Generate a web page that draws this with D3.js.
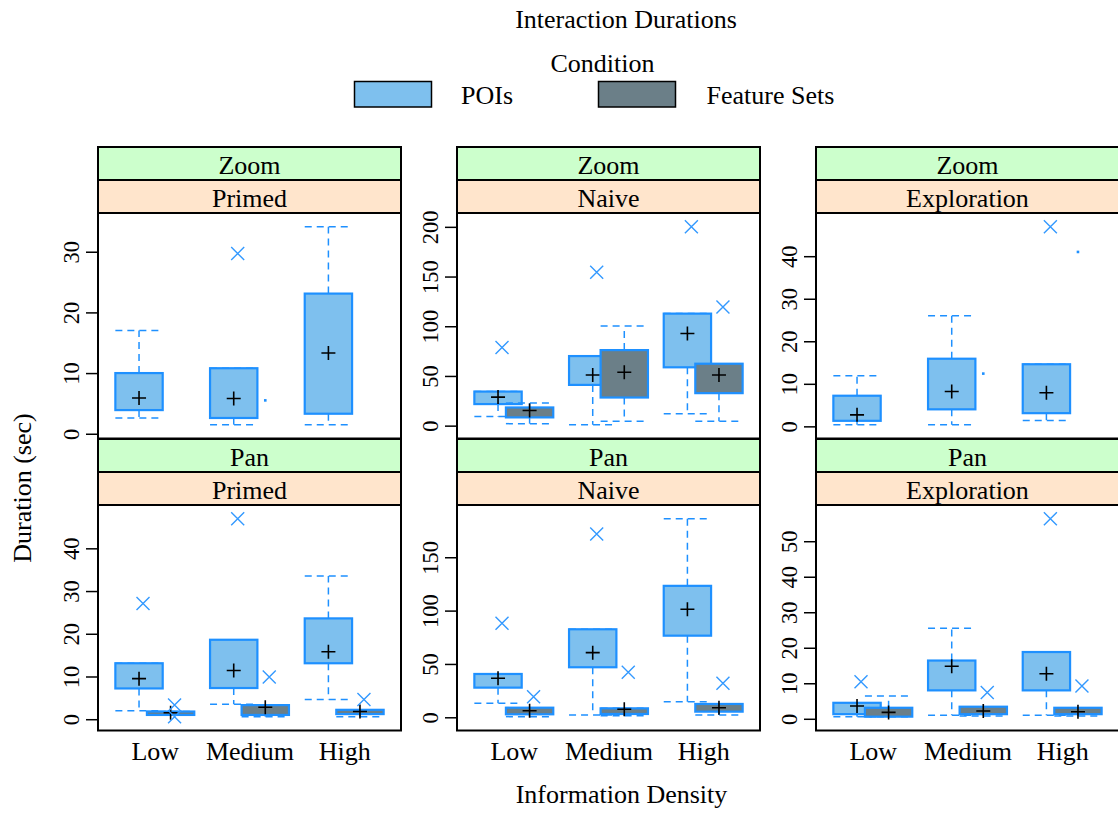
<!DOCTYPE html>
<html>
<head>
<meta charset="utf-8">
<script src="https://cdn.jsdelivr.net/npm/d3@7"></script>
<style>
  body { margin: 0; background: #fff; }
  svg { display: block; font-family: "Liberation Serif", "Times New Roman", serif; }
</style>
</head>
<body>
<script>
const densities = ['Low', 'Medium', 'High']
const conditions = ['POIs', 'Feature Sets']
const tasks = ['Primed', 'Naive', 'Exploration']
const interactions = ['Zoom', 'Pan']

// box stats per density: [lower whisker, lower hinge, mean, upper hinge, upper whisker]
const zoomPrimedPOIs = [[2.6, 3.9, 5.9, 10.0, 17.0], [1.5, 2.6, 5.8, 10.8, 10.8], [1.5, 3.3, 13.3, 23.1, 34.1]]
const zoomPrimedFeatureSets = [null, null, null]
const zoomNaivePOIs = [[9.3, 21.7, 28.7, 34.3, 34.3], [1.0, 41.0, 51.0, 70.0, 70.0], [12.0, 58.7, 92.7, 112.7, 112.7]]
const zoomNaiveFeatureSets = [[2.0, 8.3, 15.3, 18.3, 22.7], [4.3, 28.3, 53.7, 76.0, 100.3], [4.3, 32.7, 51.0, 62.3, 62.3]]
const zoomExplorationPOIs = [[0.4, 1.3, 2.7, 7.2, 11.9], [0.4, 4.0, 8.2, 15.9, 26.0], [1.4, 3.1, 7.9, 14.6, 14.6]]
const zoomExplorationFeatureSets = [null, null, null]
const panPrimedPOIs = [[2.0, 7.2, 9.5, 13.1, 13.1], [3.5, 7.3, 11.4, 18.6, 18.6], [4.6, 13.1, 15.8, 23.6, 33.5]]
const panPrimedFeatureSets = [[0.9, 1.0, 1.5, 1.8, 1.8], [0.6, 1.0, 2.8, 3.3, 3.3], [0.6, 1.2, 1.8, 2.2, 2.2]]
const panNaivePOIs = [[13.1, 27.8, 36.6, 40.6, 40.6], [2.2, 46.9, 60.6, 82.5, 82.5], [14.6, 76.5, 101.3, 123.2, 186.0]]
const panNaiveFeatureSets = [[0.6, 2.8, 6.2, 9.0, 9.0], [1.5, 3.1, 7.5, 8.4, 8.4], [2.2, 5.3, 9.0, 12.5, 12.5]]
const panExplorationPOIs = [[0.6, 1.3, 3.6, 4.5, 4.5], [1.0, 8.0, 14.8, 16.4, 25.5], [1.0, 8.0, 12.7, 18.8, 18.8]]
const panExplorationFeatureSets = [[0.6, 0.6, 1.8, 3.1, 6.4], [0.8, 1.3, 2.2, 3.4, 3.4], [0.8, 1.3, 2.0, 3.1, 3.1]]

// outliers: [density, condition, value]
const zoomPrimedOutliers = [['Medium', 'POIs', 29.7]]
const zoomNaiveOutliers = [['Low', 'POIs', 78.7], ['Medium', 'POIs', 154.3], ['High', 'POIs', 200], ['High', 'Feature Sets', 119.3]]
const zoomExplorationOutliers = [['High', 'POIs', 46.9]]
const panPrimedOutliers = [['Low', 'POIs', 27.1], ['Low', 'Feature Sets', 3.3], ['Low', 'Feature Sets', 0.6], ['Medium', 'POIs', 46.9], ['Medium', 'Feature Sets', 9.9], ['High', 'Feature Sets', 4.6]]
const panNaiveOutliers = [['Low', 'POIs', 88.2], ['Low', 'Feature Sets', 19.3], ['Medium', 'POIs', 171.7], ['Medium', 'Feature Sets', 42.2], ['High', 'Feature Sets', 31.9]]
const panExplorationOutliers = [['Low', 'POIs', 10.4], ['Medium', 'Feature Sets', 7.4], ['High', 'POIs', 56.3], ['High', 'Feature Sets', 9.2]]

// groups with a single observation (drawn as a dot)
const zoomPrimedSingles = [['Medium', 'Feature Sets', 5.5]]
const zoomExplorationSingles = [['Medium', 'Feature Sets', 12.4], ['High', 'Feature Sets', 41.0]]

const panels = [
  { interaction: 'Zoom', task: 'Primed', stats: [zoomPrimedPOIs, zoomPrimedFeatureSets], outliers: zoomPrimedOutliers, singles: zoomPrimedSingles },
  { interaction: 'Zoom', task: 'Naive', stats: [zoomNaivePOIs, zoomNaiveFeatureSets], outliers: zoomNaiveOutliers, singles: [] },
  { interaction: 'Zoom', task: 'Exploration', stats: [zoomExplorationPOIs, zoomExplorationFeatureSets], outliers: zoomExplorationOutliers, singles: zoomExplorationSingles },
  { interaction: 'Pan', task: 'Primed', stats: [panPrimedPOIs, panPrimedFeatureSets], outliers: panPrimedOutliers, singles: [] },
  { interaction: 'Pan', task: 'Naive', stats: [panNaivePOIs, panNaiveFeatureSets], outliers: panNaiveOutliers, singles: [] },
  { interaction: 'Pan', task: 'Exploration', stats: [panExplorationPOIs, panExplorationFeatureSets], outliers: panExplorationOutliers, singles: [] }
]

const fills = ['#7EC0EE', '#6B7F88']
const stroke = '#1E90FF'
const stripColors = ['#CCFFCC', '#FFE5CC']

// LAYOUT
const width = 1118
const height = 813
const panelLeft = 98
const colStep = 359
const panelW = 303
const rowTop = 147
const rowStep = 292
const stripH = 33
const panelH = 225.5

const svg = d3.select('body').append('svg')
  .attr('width', width)
  .attr('height', height)

const x = d3.scalePoint()
  .domain(densities)
  .range([0, panelW])
  .padding(0.6)
const step = x.step()
const boxW = step / 2
const offset = d3.scaleOrdinal().domain(conditions).range([-step / 6, step / 6])

panels.forEach(p => {
  const col = tasks.indexOf(p.task)
  const row = interactions.indexOf(p.interaction)
  const left = panelLeft + col * colStep
  const top = rowTop + row * rowStep
  const g = svg.append('g').attr('transform', `translate(${left},${top})`)

  // strips
  const strips = [p.interaction, p.task]
  strips.forEach((s, i) => {
    g.append('rect')
      .attr('x', 0).attr('y', i * stripH)
      .attr('width', panelW).attr('height', stripH)
      .attr('fill', stripColors[i])
      .attr('stroke', '#000').attr('stroke-width', 2)
    g.append('text')
      .attr('x', panelW / 2).attr('y', i * stripH + 26.5)
      .attr('text-anchor', 'middle')
      .attr('font-size', 26)
      .text(s)
  })

  const pg = g.append('g').attr('transform', `translate(0,${2 * stripH})`)

  // y extent from everything drawn, padded like lattice (7%)
  let vals = []
  p.stats.forEach(s => s.forEach(d => { if (d) vals.push(d[0], d[4]) }))
  p.outliers.forEach(d => vals.push(d[2]))
  p.singles.forEach(d => vals.push(d[2]))
  const [lo, hi] = d3.extent(vals)
  const pad = (hi - lo) * 0.07
  const y = d3.scaleLinear().domain([lo - pad, hi + pad]).range([panelH, 0])
  const span = hi - lo + 2 * pad
  const ticks = y.ticks(5).filter(t => t > lo - pad + span * 0.01 && t < hi + pad - span * 0.01)

  const yAxis = pg.append('g')
    .call(d3.axisLeft(y).tickValues(ticks).tickSize(12).tickFormat(d3.format('d')))
  yAxis.select('.domain').remove()
  yAxis.selectAll('line').attr('stroke', '#000').attr('stroke-width', 1.5)
  yAxis.selectAll('text')
    .attr('transform', 'rotate(-90)')
    .attr('x', 0).attr('y', -19).attr('dy', 0)
    .attr('text-anchor', 'middle')
    .attr('font-size', 22.5)
    .attr('font-family', '"Liberation Serif", serif')
    .attr('fill', '#000')

  if (row === interactions.length - 1) {
    const xAxis = pg.append('g')
      .attr('transform', `translate(0,${panelH})`)
      .call(d3.axisBottom(x).tickSize(0).tickPadding(11))
    xAxis.select('.domain').remove()
    xAxis.selectAll('text')
      .attr('font-size', 26)
      .attr('font-family', '"Liberation Serif", serif')
      .attr('fill', '#000')
  }

  // boxes, one condition after the other so feature sets sit on top
  conditions.forEach((c, ci) => {
    p.stats[ci].forEach((d, di) => {
      if (!d) return
      const cx = x(densities[di]) + offset(c)
      const bg = pg.append('g')
      const dash = '7,5'
      bg.append('line')
        .attr('x1', cx).attr('x2', cx)
        .attr('y1', y(d[3])).attr('y2', y(d[4]))
        .attr('stroke', stroke).attr('stroke-width', 1.5).attr('stroke-dasharray', dash)
      bg.append('line')
        .attr('x1', cx).attr('x2', cx)
        .attr('y1', y(d[1])).attr('y2', y(d[0]))
        .attr('stroke', stroke).attr('stroke-width', 1.5).attr('stroke-dasharray', dash)
      ;[d[0], d[4]].forEach(v => {
        bg.append('line')
          .attr('x1', cx - boxW / 2).attr('x2', cx + boxW / 2)
          .attr('y1', y(v)).attr('y2', y(v))
          .attr('stroke', stroke).attr('stroke-width', 1.5).attr('stroke-dasharray', dash)
      })
      bg.append('rect')
        .attr('x', cx - boxW / 2).attr('width', boxW)
        .attr('y', y(d[3])).attr('height', Math.max(y(d[1]) - y(d[3]), 0.5))
        .attr('fill', fills[ci])
        .attr('stroke', stroke).attr('stroke-width', 2.2)
      bg.append('path')
        .attr('d', `M${cx - 7},${y(d[2])}H${cx + 7}M${cx},${y(d[2]) - 7}V${y(d[2]) + 7}`)
        .attr('stroke', '#000').attr('stroke-width', 1.6)
    })
  })

  p.singles.forEach(d => {
    const cx = x(d[0]) + offset(d[1])
    pg.append('rect')
      .attr('x', cx - 1.3).attr('y', y(d[2]) - 1.3)
      .attr('width', 2.6).attr('height', 2.6)
      .attr('fill', stroke)
  })

  p.outliers.forEach(d => {
    const cx = x(d[0]) + offset(d[1]) + step * 0.042
    const cy = y(d[2])
    pg.append('path')
      .attr('d', `M${cx - 6.5},${cy - 6.5}L${cx + 6.5},${cy + 6.5}M${cx - 6.5},${cy + 6.5}L${cx + 6.5},${cy - 6.5}`)
      .attr('stroke', '#3399FF').attr('stroke-width', 1.4)
  })

  pg.append('rect')
    .attr('width', panelW).attr('height', panelH)
    .attr('fill', 'none')
    .attr('stroke', '#000').attr('stroke-width', 2)
})

// TITLES AND LEGEND
svg.append('text')
  .attr('x', 626).attr('y', 28)
  .attr('text-anchor', 'middle').attr('font-size', 26)
  .text('Interaction Durations')

svg.append('text')
  .attr('x', 602.5).attr('y', 71.5)
  .attr('text-anchor', 'middle').attr('font-size', 26)
  .text('Condition')

const legendX = [354.5, 598.5]
const legendTextX = [461, 706.5]
conditions.forEach((c, i) => {
  svg.append('rect')
    .attr('x', legendX[i]).attr('y', 81.5)
    .attr('width', 77).attr('height', 25.5)
    .attr('fill', fills[i])
    .attr('stroke', '#000').attr('stroke-width', 1.5)
  svg.append('text')
    .attr('x', legendTextX[i]).attr('y', 103.5)
    .attr('font-size', 26)
    .text(c)
})

svg.append('text')
  .attr('x', 621.5).attr('y', 803)
  .attr('text-anchor', 'middle').attr('font-size', 26)
  .text('Information Density')

svg.append('text')
  .attr('transform', 'translate(31,488) rotate(-90)')
  .attr('text-anchor', 'middle').attr('font-size', 26)
  .text('Duration (sec)')
</script>
</body>
</html>
